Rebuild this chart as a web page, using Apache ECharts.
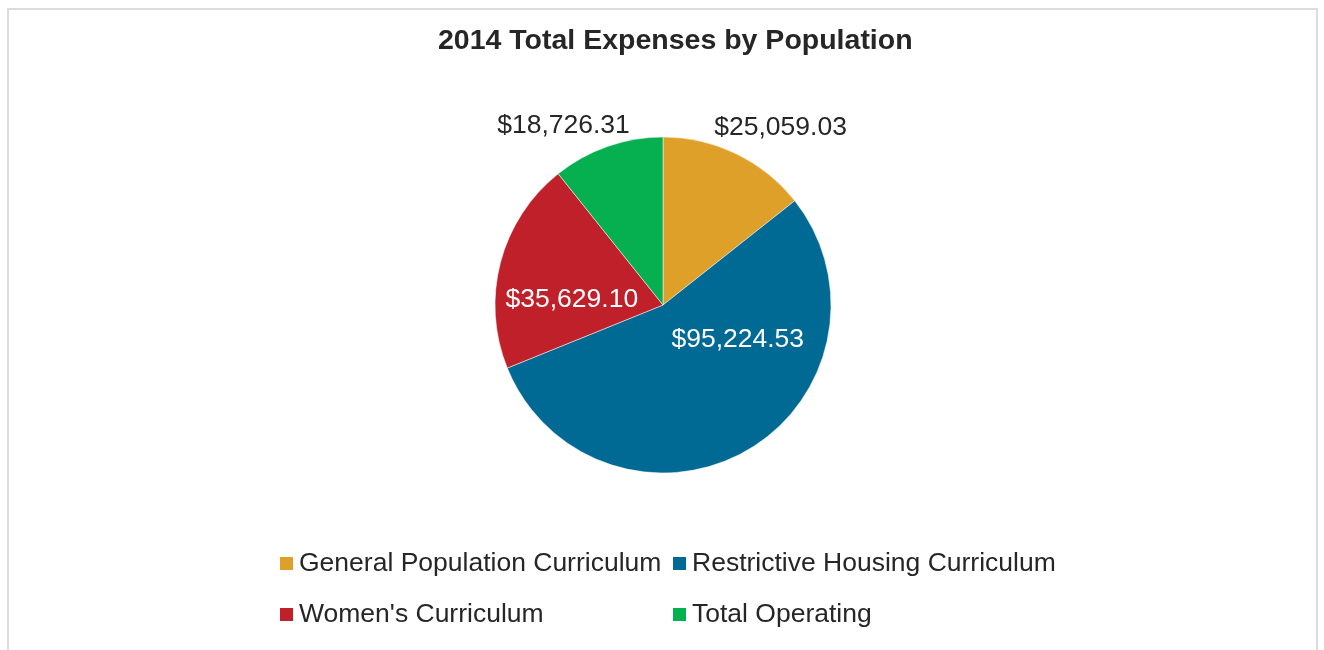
<!DOCTYPE html>
<html><head><meta charset="utf-8">
<script src="https://cdn.jsdelivr.net/npm/echarts@6/dist/echarts.min.js"></script>
<style>
html,body{margin:0;padding:0;background:#fff;}
#frame{position:absolute;left:7px;top:8px;width:1311px;height:700px;border:2px solid #dcdcdc;box-sizing:border-box;}
#chart{position:absolute;left:0;top:0;width:1324px;height:650px;}
</style></head>
<body>
<div id="frame"></div>
<div id="chart"></div>
<script>
const titleText = '2014 Total Expenses by Population';
const categories = ['General Population Curriculum','Restrictive Housing Curriculum',"Women's Curriculum",'Total Operating'];
const values = [25059.03, 95224.53, 35629.10, 18726.31];
const colors = ['#DFA02A','#006994','#C0202A','#06B050'];
const labelInside = [false, true, true, false];
const labelShift = [[-33,-13],[31,-41],[-7,17],[32,-8]];

const fmt = v => '$' + v.toLocaleString('en-US',{minimumFractionDigits:2,maximumFractionDigits:2});
const chart = echarts.init(document.getElementById('chart'));
const font = '"Liberation Sans", Arial, sans-serif';
const legendText = {fontFamily:font,fontSize:26.5,color:'#262626'};
chart.setOption({
  animation:false,
  title:{text:titleText,left:433,top:22,textStyle:{fontFamily:font,fontSize:28.5,fontWeight:'bold',color:'#262626'}},
  legend:[
    {data:[categories[0],categories[2]],orient:'vertical',left:278,top:550,padding:0,itemWidth:15,itemHeight:15,itemGap:24,icon:'rect',textStyle:legendText},
    {data:[categories[1],categories[3]],orient:'vertical',left:671,top:550,padding:0,itemWidth:15,itemHeight:15,itemGap:24,icon:'rect',textStyle:legendText}
  ],
  series:[{
    type:'pie',
    center:[663,305],
    radius:168,
    startAngle:90,
    clockwise:true,
    itemStyle:{borderColor:'#fff',borderWidth:0.5},
    labelLine:{show:false,length:14,length2:0},
    data:categories.map((c,i)=>({
      name:c,value:values[i],itemStyle:{color:colors[i]},
      label:{show:true,position:labelInside[i]?'inside':'outside',formatter:p=>fmt(p.value),
        offset:labelShift[i],
        fontFamily:font,fontSize:26.5,color:labelInside[i]?'#fff':'#262626'}
    }))
  }]
});
</script>
</body></html>
